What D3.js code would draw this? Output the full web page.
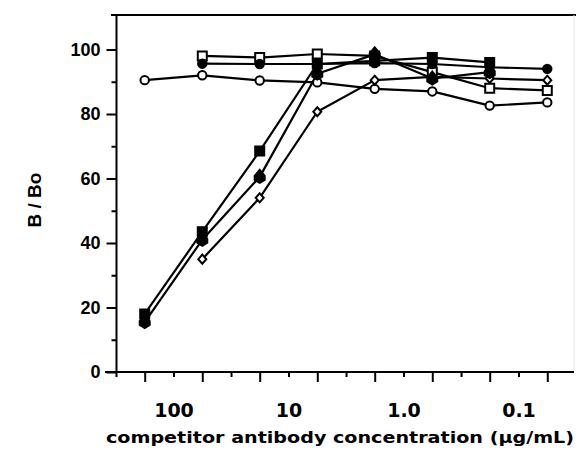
<!DOCTYPE html>
<html>
<head>
<meta charset="utf-8">
<script src="https://cdn.jsdelivr.net/npm/d3@7"></script>
<style>
  body { margin: 0; background: #fff; }
  svg { display: block; }
  text { fill: #000; font-family: "DejaVu Sans", sans-serif; font-weight: bold; }
</style>
</head>
<body>
<div id="chart"></div>
<script>
// concentrations (ug/mL) of the dilution series
const conc = [178, 56.2, 17.8, 5.62, 1.78, 0.562, 0.178, 0.0562];

// B/Bo values per competitor (null = not measured)
const filledSquare  = [18, 43.5, 68.5, 95.5, 96.5, 97.5, 96, null];
const filledDiamond = [15.5, 41, 60.5, 92.5, 98.5, 91, 93, null];
const openDiamond   = [null, 35, 54, 80.7, 90.5, 91.5, 91, 90.5];
const openSquare    = [null, 98, 97.5, 98.6, 98, 93, 88, 87.3];
const filledCircle  = [null, 95.6, 95.5, 95.5, 95.8, 95.5, 94.5, 94];
const openCircle    = [90.5, 92, 90.4, 89.8, 87.8, 87, 82.6, 83.6];

const xTickValues = [100, 10, 1, 0.1];
const xTickLabels = ["100", "10", "1.0", "0.1"];
const xMinorTicks = [31.6, 3.16, 0.316];
const yTickValues = [0, 20, 40, 60, 80, 100];
const yMinorTicks = [10, 30, 50, 70, 90];

const series = [
  { values: openCircle, marker: "circle", filled: false },
  { values: openDiamond, marker: "diamond", filled: false },
  { values: openSquare, marker: "square", filled: false },
  { values: filledCircle, marker: "circle", filled: true },
  { values: filledDiamond, marker: "diamondBig", filled: true },
  { values: filledSquare, marker: "square", filled: true }
];

const width = 576, height = 457;

const svg = d3.select("#chart")
  .append("svg")
  .attr("width", width)
  .attr("height", height);

// x runs from high to low concentration
const x = d3.scaleLog()
  .domain([Math.pow(10, 2.5), Math.pow(10, -1.5)])
  .range([116, 576]);

const y = d3.scaleLinear()
  .domain([0, 100])
  .range([372, 49.5]);

// frame lines (top and faint right)
svg.append("line")
  .attr("x1", 111).attr("x2", 576)
  .attr("y1", 15).attr("y2", 15)
  .attr("stroke", "#000").attr("stroke-width", 2);
svg.append("line")
  .attr("x1", 574).attr("x2", 574)
  .attr("y1", 15).attr("y2", 372)
  .attr("stroke", "#e4e4e4").attr("stroke-width", 1);

// x axis: short ticks under labels, long ticks at the data positions
const xAxisG = svg.append("g").attr("transform", "translate(0,372)");
xAxisG.call(d3.axisBottom(x)
  .tickValues(xTickValues)
  .tickSize(5)
  .tickPadding(27)
  .tickFormat((d, i) => xTickLabels[i]));
xAxisG.append("g").call(d3.axisBottom(x)
  .tickValues(conc)
  .tickSize(10)
  .tickFormat(""));
xAxisG.append("g").call(d3.axisBottom(x)
  .tickValues(xMinorTicks)
  .tickSize(5)
  .tickFormat(""));
xAxisG.selectAll(".domain").remove();
xAxisG.append("line")
  .attr("x1", 105).attr("x2", 574)
  .attr("stroke", "#000").attr("stroke-width", 2);
xAxisG.selectAll(".tick line").attr("stroke-width", 2);
xAxisG.selectAll(".tick text")
  .style("font-size", "19px")
  .style("font-family", "DejaVu Sans");

// y axis
const yAxisG = svg.append("g").attr("transform", "translate(116.5,0)");
yAxisG.call(d3.axisLeft(y)
  .tickValues(yTickValues)
  .tickSize(10)
  .tickPadding(6));
yAxisG.append("g").call(d3.axisLeft(y)
  .tickValues(yMinorTicks)
  .tickSize(5)
  .tickFormat(""));
yAxisG.selectAll(".domain").remove();
yAxisG.append("line")
  .attr("y1", 15).attr("y2", 377)
  .attr("stroke", "#000").attr("stroke-width", 2);
yAxisG.selectAll(".tick line").attr("stroke-width", 2);
yAxisG.selectAll(".tick text")
  .style("font-size", "18px")
  .style("font-family", "Liberation Sans");

// axis titles
svg.append("text")
  .attr("x", 340)
  .attr("y", 443)
  .attr("text-anchor", "middle")
  .attr("textLength", 468)
  .attr("lengthAdjust", "spacingAndGlyphs")
  .style("font-size", "16px")
  .text("competitor antibody concentration (\u00b5g/mL)");

svg.append("text")
  .attr("transform", "translate(41,200) rotate(-90)")
  .attr("text-anchor", "middle")
  .style("font-size", "19px")
  .style("font-family", "Liberation Sans")
  .text("B / Bo");

// lines
const line = d3.line()
  .defined(d => d.v !== null)
  .x(d => x(d.c))
  .y(d => y(d.v));

series.forEach(s => {
  const pts = conc.map((c, i) => ({ c: c, v: s.values[i] }));
  svg.append("path")
    .datum(pts)
    .attr("d", line)
    .attr("fill", "none")
    .attr("stroke", "#000")
    .attr("stroke-width", 2.2)
    .attr("stroke-linejoin", "round");
});

// markers
const shapes = {
  circle: "M4.2,0A4.2,4.2,0,1,1,-4.2,0A4.2,4.2,0,1,1,4.2,0Z",
  square: "M-4.5,-4.5H4.5V4.5H-4.5Z",
  diamond: "M0,-4.5L4,0L0,4.5L-4,0Z",
  diamondBig: "M0,-7L5,-1L5,3L0,6L-5,3L-5,-1Z"
};

series.forEach(s => {
  const pts = conc.map((c, i) => ({ c: c, v: s.values[i] })).filter(d => d.v !== null);
  svg.append("g").selectAll("path")
    .data(pts)
    .enter()
    .append("path")
    .attr("transform", d => `translate(${x(d.c)},${y(d.v)})`)
    .attr("d", shapes[s.marker])
    .attr("fill", s.filled ? "#000" : "#fff")
    .attr("stroke", "#000")
    .attr("stroke-width", 2);
});
</script>
</body>
</html>
